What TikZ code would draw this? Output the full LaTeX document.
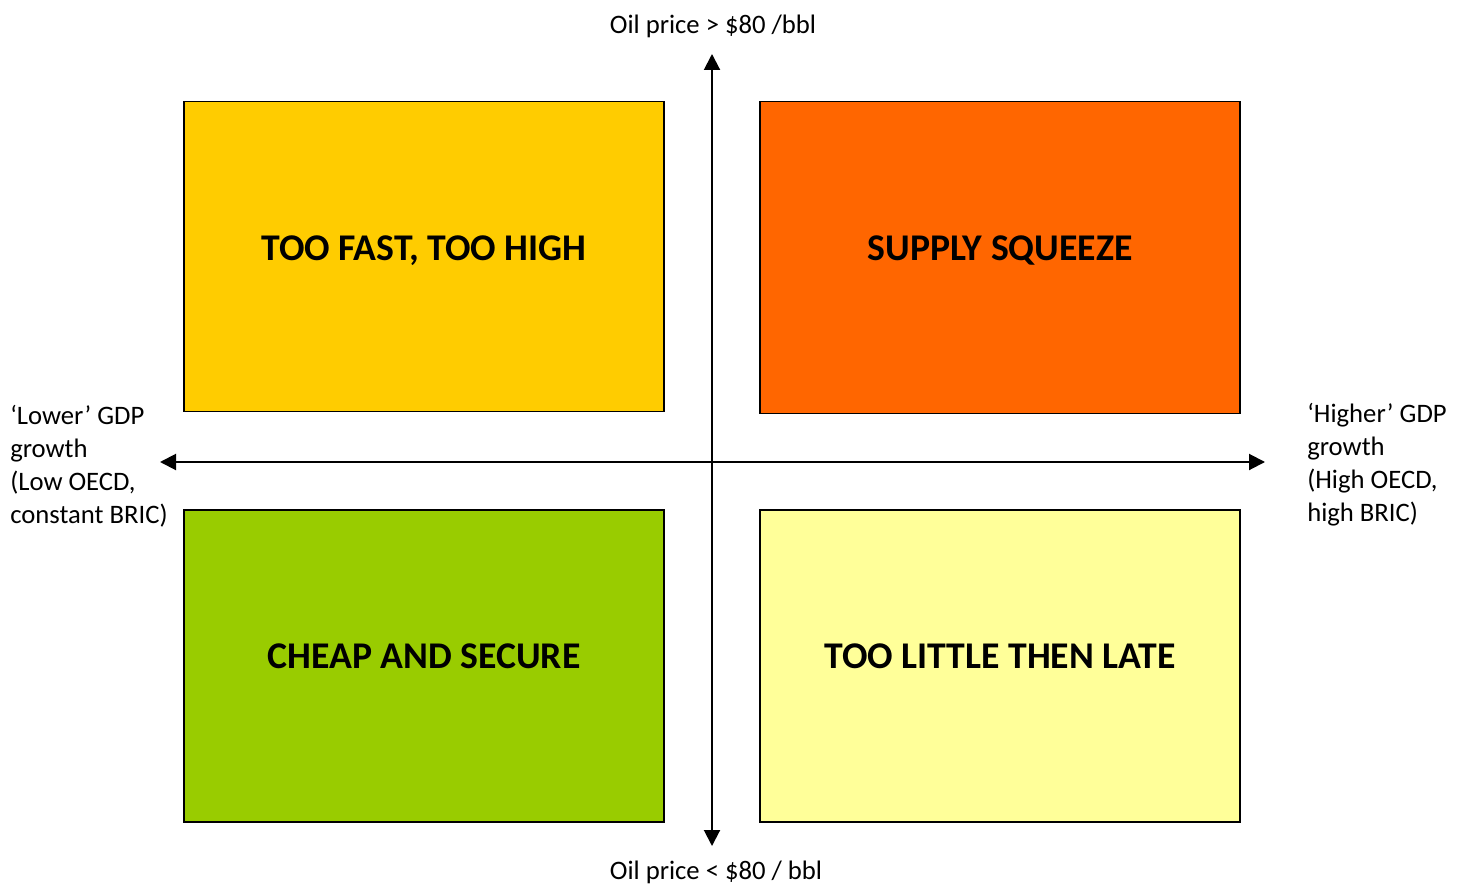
\documentclass[tikz,border=0pt]{standalone}
\usepackage{fontspec}
\setmainfont{Carlito}
\usepackage{tikz}
\usetikzlibrary{arrows.meta,positioning}
\tikzset{quad/.style={draw=black,line width=1pt,minimum width=360pt,minimum height=232pt,inner sep=0pt},
         title/.style={font=\fontsize{28.3}{34}\selectfont\bfseries,anchor=base,inner sep=0pt},
         lbl/.style={font=\fontsize{20}{24.75}\selectfont,inner sep=0pt}}

\begin{document}
\begin{tikzpicture}[x=0.75pt,y=-0.75pt,>={Triangle[width=12pt,length=12pt]}]
    \useasboundingbox (0,0) rectangle (1462,884);

    \node[quad,fill={rgb,255:red,255;green,204;blue,0}] (fast) at (424,256.5) {};
    \node[quad,fill={rgb,255:red,255;green,102;blue,0},minimum height=233.5pt] (squeeze) at (1000,257.5) {};
    \node[quad,fill={rgb,255:red,153;green,204;blue,0},minimum height=234pt] (cheap) at (424,666) {};
    \node[quad,fill={rgb,255:red,255;green,255;blue,153},minimum height=234pt] (late) at (1000,666) {};

    \node[title] (tfast) at (424,260) {TOO FAST, TOO HIGH};
    \node[title] (tsqueeze) at (1000,260) {SUPPLY SQUEEZE};
    \node[title] (tcheap) at (424,668) {CHEAP AND SECURE};
    \node[title] (tlate) at (1000,668) {TOO LITTLE THEN LATE};

    \coordinate (top) at (712,54);
    \coordinate (bot) at (712,846);
    \coordinate (lft) at (160,462);
    \coordinate (rgt) at (1265,462);

    \draw [<->,line width=1.5pt] (bot) -- (top);
    \draw [<->,line width=1.5pt] (lft) -- (rgt);

    \node[lbl,anchor=base] (high) at (713,34) {Oil price > \$80 /bbl};
    \node[lbl,anchor=base] (low) at (716,879) {Oil price < \$80 / bbl};
    \node[lbl,anchor=base west,align=left] (lower) at (10,523) {‘Lower’ GDP\\growth\\(Low OECD,\\constant BRIC)};
    \node[lbl,anchor=base west,align=left] (higher) at (1307,521) {‘Higher’ GDP\\growth\\(High OECD,\\high BRIC)};
\end{tikzpicture}
\end{document}
